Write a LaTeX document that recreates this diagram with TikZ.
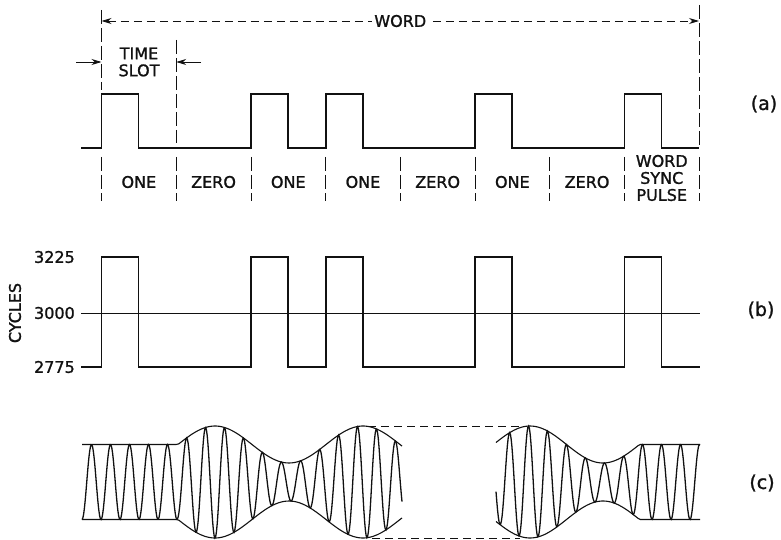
\documentclass[tikz,border=0pt]{standalone}
\usepackage{fontspec}
\setmainfont{DejaVu Sans}
\newfontfamily\lblfont{DejaVu Sans}[BoldFont={DejaVu Sans}, BoldFeatures={FakeBold=1.3}]
\usetikzlibrary{arrows.meta, positioning}
\definecolor{mInk}{HTML}{111111}

\tikzset{
  lbl/.style={font=\lblfont\bfseries\fontsize{16}{17}\selectfont, text=mInk, inner sep=1pt},
  tag/.style={font=\lblfont\bfseries\fontsize{19}{20}\selectfont, text=mInk},
  wave/.style={mInk, line width=1.8pt, line join=miter},
  guide/.style={mInk, line width=0.6pt, dash pattern=on 14pt off 4pt},
  wordline/.style={mInk, line width=0.9pt, dash pattern=on 8pt off 5pt},
  tip/.style={-{Stealth[length=10pt, width=6pt]}},
  carrier/.style={mInk, line width=1.3pt},
  envline/.style={mInk, line width=1.1pt},
  declare function={
    slot(\i)=101.5+74.7*\i;
    envP(\x)=37.5+18.5*cos((\x-215)*2.4324);
    envQ(\x)=37.5+18.5*cos((\x-530)*2.4658);
    envA(\x)=(\x<178) ? 37.5 : envP(\x);
    envB(\x)=(\x<639.5) ? envQ(\x) : 37.5;
    carr(\x)=sin((\x-82)*18.947-90);
  }
}

\begin{document}
\begin{tikzpicture}[x=1pt, y=-1pt]
  \useasboundingbox (0,0) rectangle (781,540);

  % (a) word layout
  \coordinate (wordL) at (101.5,21);
  \coordinate (wordR) at (699,21);
  \draw[wordline, {Stealth[length=10pt, width=6pt]}-{Stealth[length=10pt, width=6pt]}]
    (wordL) -- node[lbl, fill=white, inner sep=2pt] (wordlbl) {WORD} (wordR);
  \draw[guide] (101.5,10) -- (101.5,90);
  \draw[guide] (176.2,40) -- (176.2,143);
  \draw[guide] (699,5) -- (699,146);
  \foreach \i in {0,...,8}
    \draw[guide] ({slot(\i)},157) -- ({slot(\i)},201);

  \node[lbl, align=center] (timeslot) at (139,62) {TIME\\SLOT};
  \coordinate (tsL) at (101.5,62);
  \coordinate (tsR) at (176.2,62);
  \coordinate (tsLfree) at (76,62);
  \coordinate (tsRfree) at (201,62);
  \draw[mInk, line width=0.9pt, tip] (tsLfree) -- (tsL);
  \draw[mInk, line width=0.9pt, tip] (tsRfree) -- (tsR);

  \draw[wave] (81,148) \foreach \i in {0,2,3,5,7} {
      -- ({slot(\i)},148) -- ++(0,-54) -- ++(37,0) -- ++(0,54) } -- (699,148);

  \foreach \txt [count=\i from 0] in {ONE,ZERO,ONE,ONE,ZERO,ONE,ZERO}
    \node[lbl] (bit\i) at ({slot(\i+0.5)},182) {\txt};
  \node[lbl, align=center] (bit7) at ({slot(7.5)},178) {WORD\\SYNC\\PULSE};
  \node[tag] (taga) at (764,104) {(a)};

  % (b) frequency
  \draw[mInk, line width=0.7pt] (81,313) -- (700,313);
  \draw[wave] (81,367) \foreach \i in {0,2,3,5,7} {
      -- ({slot(\i)},367) -- ++(0,-110) -- ++(37,0) -- ++(0,110) } -- (700,367);
  \node[lbl, anchor=east] (fhi) at (76,257) {3225};
  \node[lbl, anchor=east] (fmid) at (76,313) {3000};
  \node[lbl, anchor=east] (flo) at (76,367) {2775};
  \node[lbl, rotate=90] (cycles) at (15,313) {CYCLES};
  \node[tag] (tagb) at (761,310) {(b)};

  % (c) recorded signal
  \draw[carrier] plot[domain=82:402, samples=420] (\x,{482-envA(\x)*carr(\x)});
  \draw[carrier] plot[domain=496:700, samples=270] (\x,{482-envB(\x)*carr(\x)});
  \draw[envline] plot[domain=82:402, samples=120] (\x,{482-envA(\x)});
  \draw[envline] plot[domain=82:402, samples=120] (\x,{482+envA(\x)});
  \draw[envline] plot[domain=496:700, samples=90] (\x,{482-envB(\x)});
  \draw[envline] plot[domain=496:700, samples=90] (\x,{482+envB(\x)});
  \coordinate (gapTL) at (368,426);
  \coordinate (gapTR) at (526,426);
  \coordinate (gapBL) at (372,538);
  \coordinate (gapBR) at (520,538);
  \draw[wordline] (gapTL) -- (gapTR);
  \draw[wordline] (gapBL) -- (gapBR);
  \node[tag] (tagc) at (762,483) {(c)};
\end{tikzpicture}
\end{document}
